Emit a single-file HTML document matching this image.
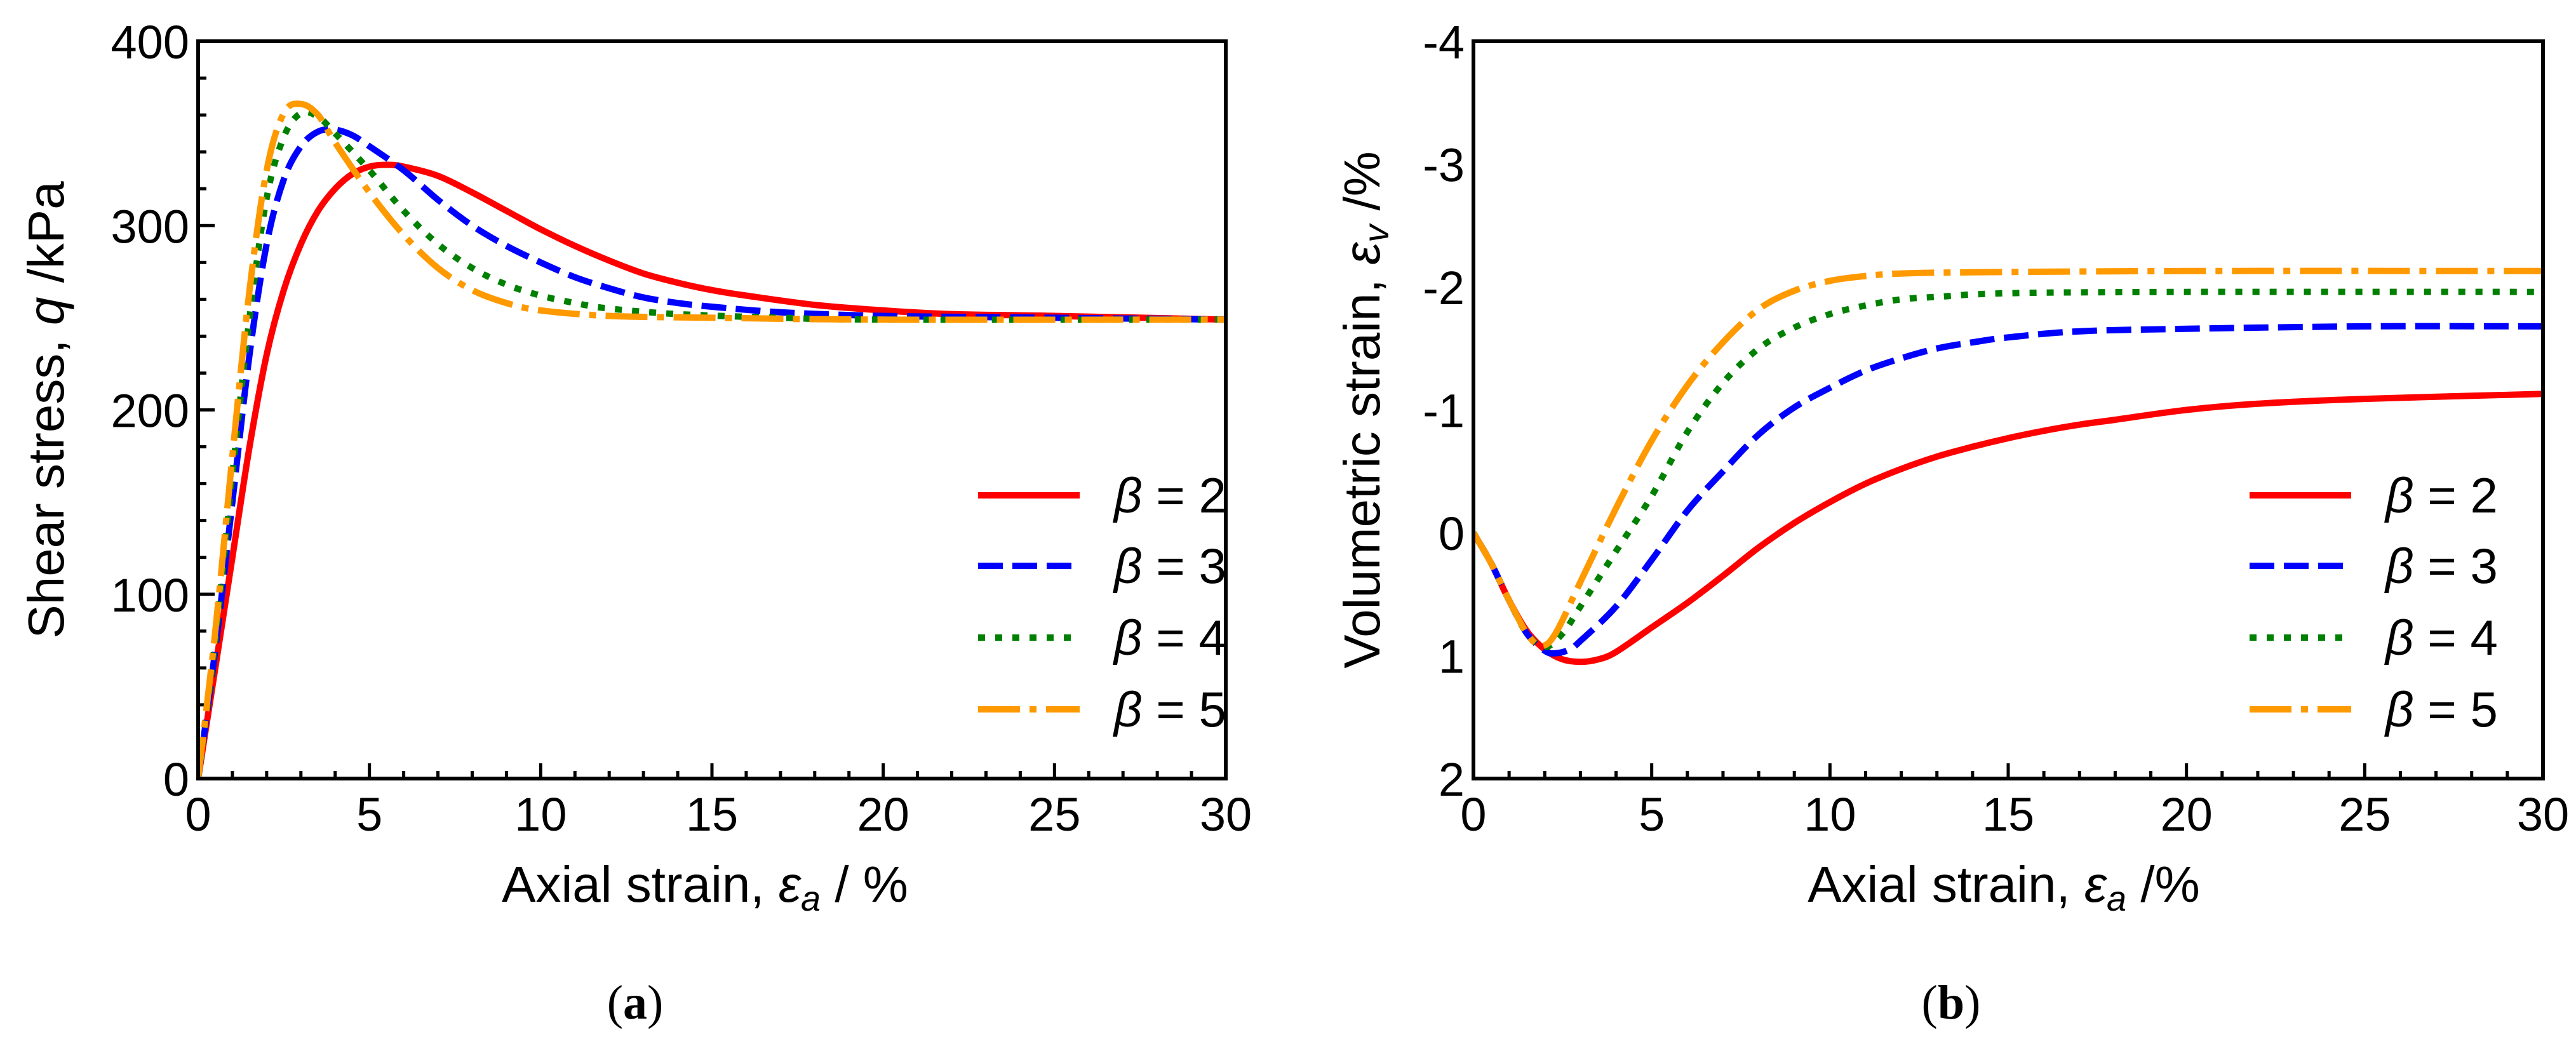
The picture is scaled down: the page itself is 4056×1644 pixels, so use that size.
<!DOCTYPE html>
<html><head><meta charset="utf-8"><style>
html,body{margin:0;padding:0;background:#fff;}
svg{display:block;font-family:"Liberation Sans",Arial,sans-serif;}
</style></head><body>
<svg id="fig" width="4056" height="1644" viewBox="0 0 4056 1644" xmlns="http://www.w3.org/2000/svg">
<g id="pa"></g>
<g id="pb"></g>
</svg>
<script>
// ---- data ----
const betaLabels = ["2","3","4","5"];
const seriesColors = ["#ff0000","#0000ff","#008000","#ff9900"];
const xTicks = [0,5,10,15,20,25,30];
const qTicks = [0,100,200,300,400];
const vTicks = [-4,-3,-2,-1,0,1,2];

const q2x = [0,0.5,1,1.5,2,2.5,3,3.5,4,4.5,5,5.5,6,7,8,9,10,11,12,13,14,15,16,18,20,22,25,30];
const q2y = [0,60,120,180,230,265,290,308,320,328,332,333,332,327,318,308,298,289,281,274,269,265,262,257,254,252,251,249];
const q3x = [0,0.5,1,1.5,2,2.5,3,3.5,4,4.5,5,6,7,8,9,10,11,12,13,14,15,17,20,25,30];
const q3y = [0,70,150,230,290,325,343,351,352,349,343,330,314,300,289,280,272,266,261,258,256,253,251,250,249];
const q4x = [0,0.5,1,1.5,2,2.5,3,3.5,4,5,6,7,8,9,10,11,12,14,17,20,30];
const q4y = [0,75,165,250,315,348,361,359,350,330,308,290,277,268,262,258,255,252,250,249,249];
const q5x = [0,0.5,1,1.5,2,2.5,3,3.5,4,5,6,7,8,9,10,12,15,20,30];
const q5y = [0,80,175,265,330,361,366,360,345,318,295,277,265,258,254,251,250,249,249];

const v2x = [0,0.5,1,1.5,2,2.5,3,3.5,4,5,6,7,8,9,10,11,12,13,14,15,16,17,18,20,22,25,30];
const v2y = [0,0.25,0.55,0.8,0.95,1.03,1.05,1.03,0.97,0.77,0.57,0.35,0.12,-0.08,-0.25,-0.4,-0.52,-0.62,-0.7,-0.77,-0.83,-0.88,-0.92,-1.0,-1.05,-1.09,-1.13];
const v3x = [0,0.5,1,1.5,2,2.3,2.7,3,4,5,6,7,8,9,10,11,12,13,14,15,17,20,25,30];
const v3y = [0,0.25,0.55,0.82,0.96,0.98,0.95,0.88,0.6,0.22,-0.18,-0.5,-0.8,-1.02,-1.18,-1.32,-1.42,-1.5,-1.55,-1.59,-1.64,-1.66,-1.68,-1.68];
const v4x = [0,0.5,1,1.5,2,2.5,3,4,5,6,7,8,9,10,11,12,13,15,20,30];
const v4y = [0,0.25,0.55,0.82,0.93,0.82,0.6,0.15,-0.3,-0.82,-1.22,-1.5,-1.67,-1.78,-1.85,-1.9,-1.92,-1.95,-1.96,-1.96];
const v5x = [0,0.5,1,1.5,1.9,2.3,3,4,5,6,7,8,9,10,11,12,14,20,30];
const v5y = [0,0.25,0.55,0.82,0.92,0.82,0.4,-0.2,-0.75,-1.2,-1.55,-1.82,-1.97,-2.05,-2.09,-2.11,-2.12,-2.13,-2.13];

const NS="http://www.w3.org/2000/svg";
function mk(tag,attrs,parent){const e=document.createElementNS(NS,tag);for(const k in attrs)e.setAttribute(k,attrs[k]);parent.appendChild(e);return e;}
const dashes=["none","39 15","11 16","66 15 11 15"];

function smoothPath(pts){
  let d='M'+pts[0][0].toFixed(1)+','+pts[0][1].toFixed(1);
  for(let i=0;i<pts.length-1;i++){
    const p0=pts[Math.max(0,i-1)],p1=pts[i],p2=pts[i+1],p3=pts[Math.min(pts.length-1,i+2)];
    const c1x=p1[0]+(p2[0]-p0[0])/6,c1y=p1[1]+(p2[1]-p0[1])/6;
    const c2x=p2[0]-(p3[0]-p1[0])/6,c2y=p2[1]-(p3[1]-p1[1])/6;
    d+=' C'+c1x.toFixed(1)+','+c1y.toFixed(1)+' '+c2x.toFixed(1)+','+c2y.toFixed(1)+' '+p2[0].toFixed(1)+','+p2[1].toFixed(1);
  }
  return d;
}

function panel(g, X0, X1, Y0, Y1, ymin, ymax, yTicks, yMinorStep, xsArr, ysArr, yTitleHTML, yTitleX, xTitleHTML, xTitleX, capX, capText, legX){
  const sx=v=>X0+(v-0)/(30-0)*(X1-X0);
  const sy=v=>Y1-(v-ymin)/(ymax-ymin)*(Y1-Y0);
  for(let v=0; v<=30; v+=1){
    const major=v%5===0;
    const t=mk('line',{x1:sx(v),x2:sx(v),y1:Y1,y2:Y1-(major?24:12),stroke:'#000','stroke-width':5},g);
    
    
  }
  for(let i=0;i<=Math.round((ymax-ymin)/yMinorStep);i++){
    const v=ymin+i*yMinorStep;
    const major=yTicks.some(t=>Math.abs(t-v)<1e-6);
    const t=mk('line',{x1:X0,x2:X0+(major?26:13),y1:sy(v),y2:sy(v),stroke:'#000','stroke-width':5},g);
    
    
  }
  xTicks.forEach(v=>{
    const t=mk('text',{x:sx(v),y:Y1+82,'font-size':74,'text-anchor':'middle'},g);
    t.textContent=v;
    
    
  });
  yTicks.forEach(v=>{
    const t=mk('text',{x:X0-14,y:sy(v)+27,'font-size':74,'text-anchor':'end'},g);
    t.textContent=v;
    
    
  });
  const clip=mk('clipPath',{id:'c'+X0},g);
  mk('rect',{x:X0,y:Y0,width:X1-X0,height:Y1-Y0},clip);
  xsArr.forEach((xs,si)=>{
    const ys=ysArr[si];
    const pts=xs.map((x,i)=>[sx(x),sy(ys[i])]);
    const p=mk('path',{d:smoothPath(pts),fill:'none',stroke:seriesColors[si],'stroke-width':10,'stroke-dasharray':dashes[si],'clip-path':'url(#c'+X0+')','stroke-linejoin':'round'},g);
    
    
  });
  const f=mk('rect',{x:X0,y:Y0,width:X1-X0,height:Y1-Y0,fill:'none',stroke:'#000','stroke-width':6},g);
  
  
  const ly=[780,891,1004,1117];
  betaLabels.forEach((b,i)=>{
    const lg=mk('g',{},g);
    
    
    mk('line',{x1:legX,x2:legX+160,y1:ly[i],y2:ly[i],stroke:seriesColors[i],'stroke-width':10,'stroke-dasharray':dashes[i]},lg);
    const t=mk('text',{x:legX+214,y:ly[i]+27,'font-size':78},lg);
    t.innerHTML='<tspan font-style="italic">β</tspan> = '+b;
  });
  const yt=mk('text',{x:0,y:0,'font-size':80,'text-anchor':'middle',transform:'translate('+yTitleX+','+((Y0+Y1)/2)+') rotate(-90)'},g);
  yt.innerHTML=yTitleHTML;
  
  
  const xt=mk('text',{x:xTitleX,y:1420,'font-size':80,'text-anchor':'middle'},g);
  xt.innerHTML=xTitleHTML;
  
  
  const cp=mk('text',{x:capX,y:1604,'font-size':76,'text-anchor':'middle','font-family':'Liberation Serif, serif'},g);
  cp.innerHTML=capText;
  
  
}
panel(document.getElementById('pa'),312,1930,65,1226,0,400,qTicks,20,[q2x,q3x,q4x,q5x],[q2y,q3y,q4y,q5y],
  'Shear stress, <tspan font-style="italic">q</tspan> /kPa',100,
  'Axial strain, <tspan font-style="italic">ε</tspan><tspan font-style="italic" font-size="56" dy="14">a</tspan><tspan dy="-14"> / %</tspan>',1110,1000,'(<tspan font-weight="bold">a</tspan>)',1540);
panel(document.getElementById('pb'),2320,4004,65,1226,2,-4,vTicks,0.2,[v2x,v3x,v4x,v5x],[v2y,v3y,v4y,v5y],
  'Volumetric strain, <tspan font-style="italic">ε</tspan><tspan font-style="italic" font-size="56" dy="14">v</tspan><tspan dy="-14"> /%</tspan>',2172,
  'Axial strain, <tspan font-style="italic">ε</tspan><tspan font-style="italic" font-size="56" dy="14">a</tspan><tspan dy="-14"> /%</tspan>',3155,3072,'(<tspan font-weight="bold">b</tspan>)',3542);
</script>
</body></html>
